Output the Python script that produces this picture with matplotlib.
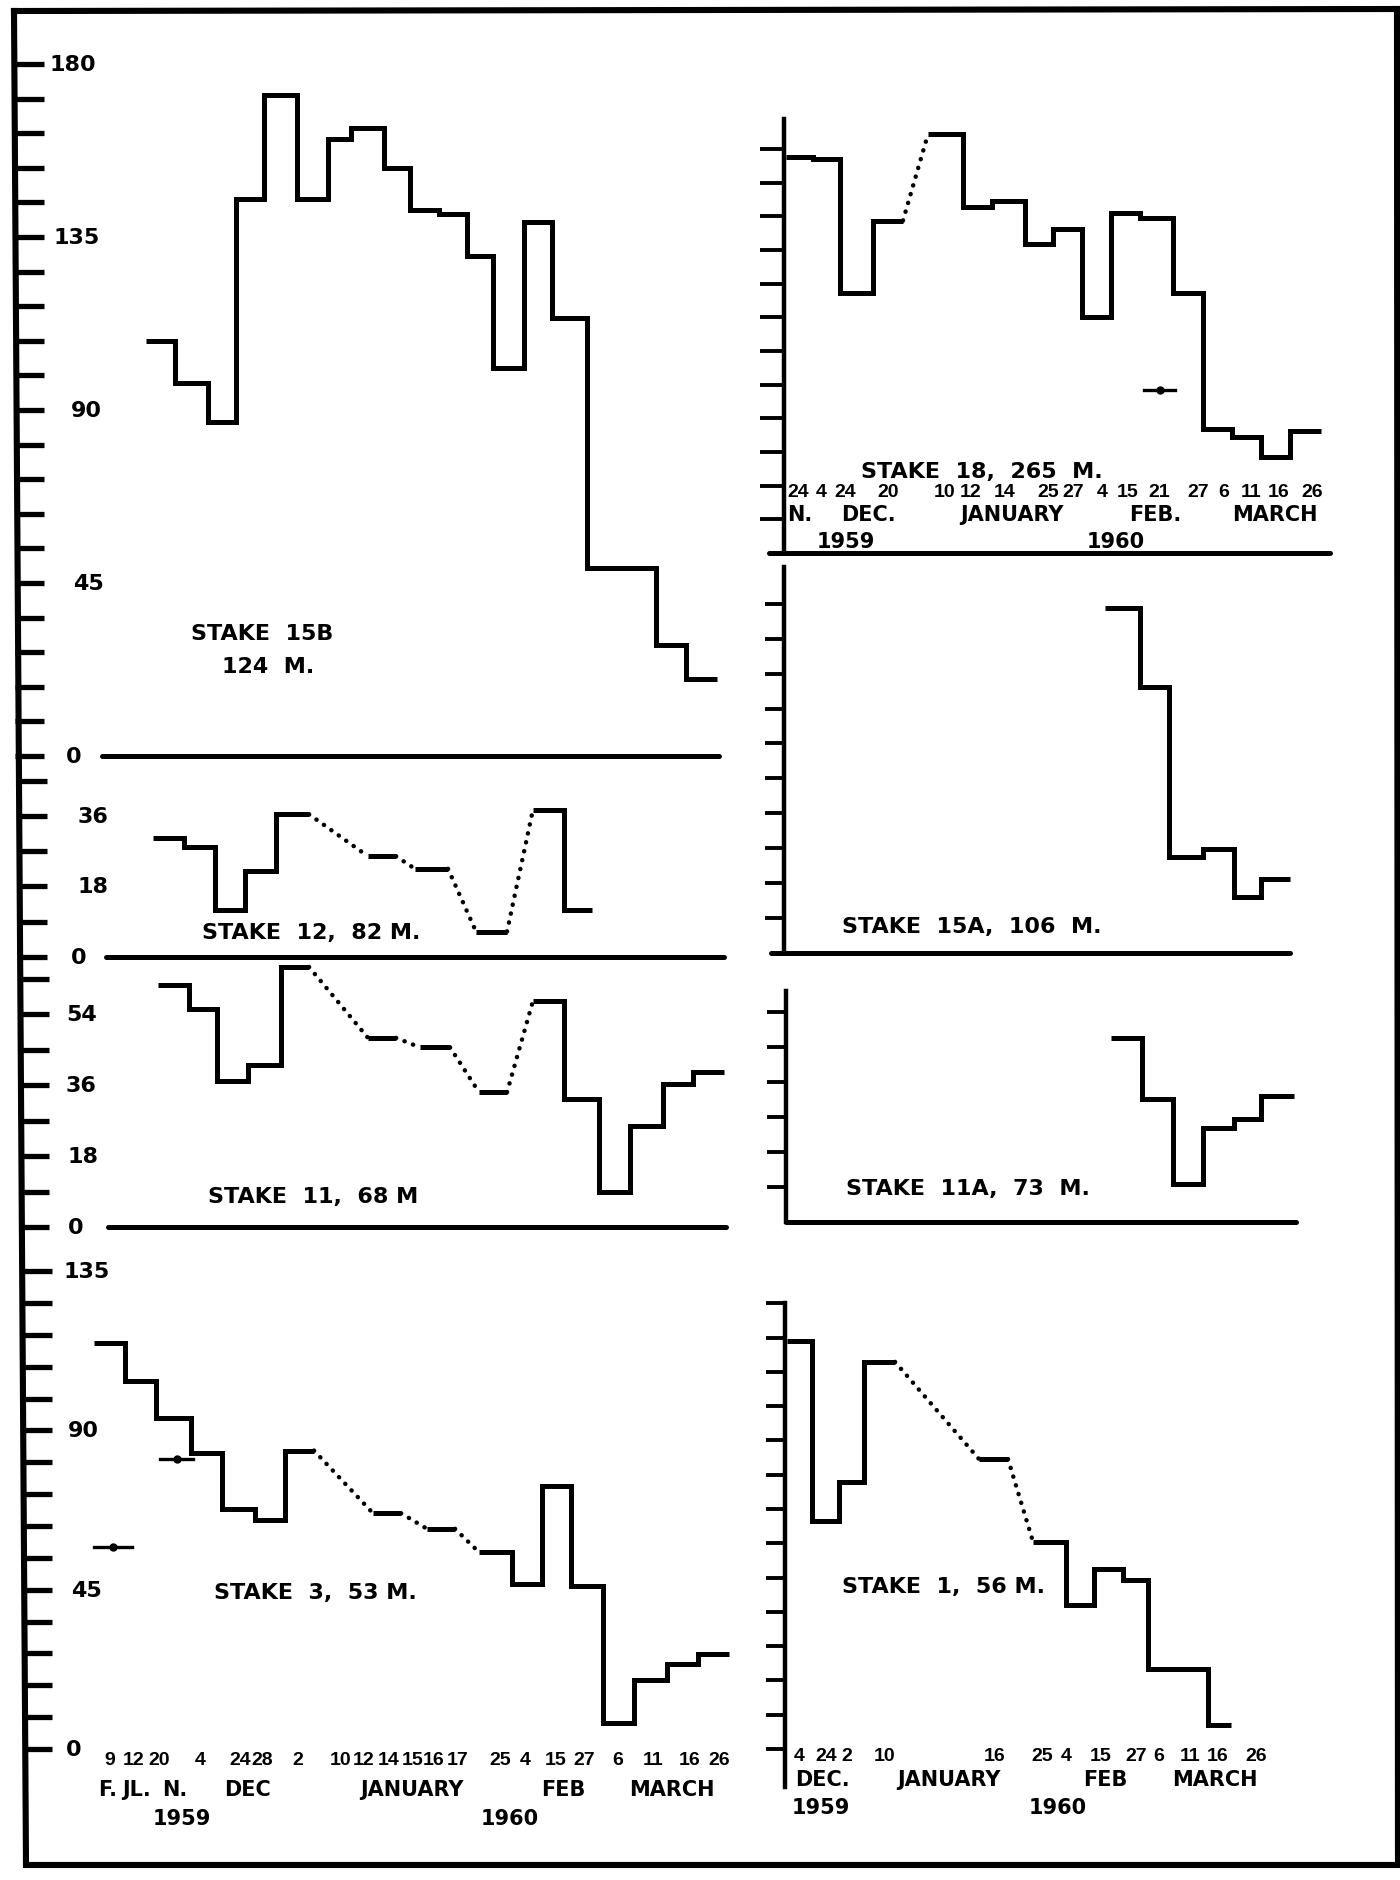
import matplotlib
matplotlib.use('Agg')
import matplotlib.pyplot as plt

W, H = 1400, 1881
LW = 3.6
BOLD = 'DejaVu Sans'
NARROW = 'Liberation Sans'
LABEL_SIZE = 16
TICK_SIZE = 16

# ---------------- data (x = chart position, y = value) ----------------
# Stake 15B, 124 m
s15b_runs = [([146, 175, 208, 236, 264, 297, 328, 351, 384, 410, 439, 467, 493, 524, 552, 587, 656, 686, 717],
              [108, 97, 87, 145, 172, 145, 160.5, 163.5, 153, 142, 141, 130, 101, 139, 114, 49, 29, 20])]
s15b_yticks = [0, 45, 90, 135, 180]

# Stake 12, 82 m
s12_runs = [([153, 184, 215, 245, 276, 309], [30.3, 28, 12, 22, 36.4]),
            ([368, 396], [25.7]),
            ([415, 448], [22.5]),
            ([476, 507], [6.5]),
            ([533, 564, 592], [37.6, 12])]
s12_yticks = [0, 18, 36]

# Stake 11, 68 m
s11_runs = [([158, 189, 217, 248, 281, 309], [61.4, 55.4, 37, 41, 66]),
            ([368, 396], [48]),
            ([420, 450], [45.6]),
            ([479, 507], [34.2]),
            ([533, 564, 599, 630, 663, 693, 724], [57.4, 32.5, 9, 25.7, 36.3, 39.4])]
s11_yticks = [0, 18, 36, 54]

# Stake 3, 53 m
s3_runs = [([94, 125, 156, 191, 222, 255, 285, 314], [114.8, 103.9, 93.4, 83.7, 67.8, 64.7, 84.3]),
           ([373, 401], [66.6]),
           ([427, 455], [62.2]),
           ([479, 512, 542, 571, 603, 634, 667, 698, 729], [55.6, 46.7, 74.3, 46.1, 7.4, 19.6, 23.9, 26.8])]
s3_marks = ([94, 160], [132, 193], [57, 82])
s3_yticks = [0, 45, 90, 135]
s3_dates = ["9", "12", "20", "4", "24", "28", "2", "10", "12", "14", "15", "16", "17",
            "25", "4", "15", "27", "6", "11", "16", "26"]
s3_date_x = [110, 134, 159, 200, 240, 262, 298, 341, 364, 389, 413, 434, 458,
             500, 525, 556, 584, 618, 653, 690, 719]
s3_months = ["F.", "JL.", "N.", "DEC", "JANUARY", "FEB", "MARCH"]
s3_month_x = [108, 137, 175, 247, 412, 563, 672]
s3_years = ["1959", "1960"]
s3_year_x = [182, 510]

# Stake 18, 265 m
s18_runs = [([786, 813, 840, 873, 903], [106, 105.4, 69.4, 88.9]),
            ([928, 963, 992, 1025, 1053, 1082, 1111, 1140, 1173, 1203, 1232, 1261, 1290, 1321],
             [112, 92.4, 94.1, 82.7, 86.7, 63, 90.9, 89.6, 69.4, 33.2, 30.9, 25.6, 32.7])]
s18_marks = ([1144], [1175], [43.5])
s18_dates = ["24", "4", "24", "20", "10", "12", "14", "25", "27", "4", "15", "21", "27", "6", "11", "16", "26"]
s18_date_x = [798, 821, 845, 888, 945, 971, 1005, 1048, 1073, 1102, 1128, 1159, 1198, 1224, 1251, 1279, 1312]
s18_months = ["N.", "DEC.", "JANUARY", "FEB.", "MARCH"]
s18_month_x = [800, 868, 1012, 1155, 1275]
s18_years = ["1959", "1960"]
s18_year_x = [846, 1116]

# Stake 15A, 106 m
s15a_runs = [([1105, 1140, 1169, 1203, 1234, 1261, 1290], [89, 68.6, 24.8, 26.8, 14.4, 19.0])]

# Stake 11A, 73 m
s11a_runs = [([1111, 1142, 1173, 1203, 1234, 1261, 1294], [47.5, 31.7, 9.8, 24.2, 26.5, 32.5])]

# Stake 1, 56 m
s1_runs = [([787, 812, 839, 864, 895], [107, 59.9, 70.1, 101.6]),
           ([979, 1008], [76.1]),
           ([1033, 1066, 1094, 1123, 1148, 1208, 1231], [54.4, 37.7, 47.2, 44.3, 21.0, 6.3])]
s1_dates = ["4", "24", "2", "10", "16", "25", "4", "15", "27", "6", "11", "16", "26"]
s1_date_x = [799, 826, 847, 885, 995, 1042, 1066, 1101, 1136, 1159, 1190, 1218, 1256]
s1_months = ["DEC.", "JANUARY", "FEB", "MARCH"]
s1_month_x = [822, 949, 1105, 1215]
s1_years = ["1959", "1960"]
s1_year_x = [821, 1058]

# ---------------- figure ----------------
fig = plt.figure(figsize=(14, 18.81), dpi=100)
fig.patch.set_facecolor('white')

bg = fig.add_axes([0, 0, 1, 1])
bg.set_xlim(0, W)
bg.set_ylim(H, 0)
bg.axis('off')
frame_x = [14, 1397, 1398, 26, 14]
frame_y = [12, 10, 1866, 1866, 12]
bg.plot(frame_x, frame_y, color='black', lw=4.4, solid_joinstyle='miter')


def panel(x0, x1, ytop, ybot, yzero, ppu):
    ax = fig.add_axes([x0 / W, 1 - ybot / H, (x1 - x0) / W, (ybot - ytop) / H])
    ax.set_xlim(x0, x1)
    ax.set_ylim((yzero - ybot) / ppu, (yzero - ytop) / ppu)
    ax.patch.set_alpha(0)
    for s in ax.spines.values():
        s.set_visible(False)
    ax.set_xticks([])
    return ax


def draw_runs(ax, runs):
    prev = None
    for edges, vals in runs:
        ax.stairs(vals, edges, baseline=None, color='black', lw=LW, clip_on=False)
        if prev is not None:
            ax.plot([prev[0], edges[0]], [prev[1], vals[0]], color='black', lw=3.2,
                    linestyle=(0, (0.05, 2.0)), dash_capstyle='round', clip_on=False)
        prev = (edges[-1], vals[-1])


def draw_marks(ax, marks):
    for a, b, v in zip(*marks):
        ax.plot([a, b], [v, v], color='black', lw=2.4, clip_on=False)
        ax.plot([(a + b) / 2], [v], 'o', color='black', ms=5, clip_on=False)


def left_ticks(ax, top):
    ax.set_yticks(list(range(0, top + 1, 9)))
    ax.tick_params(axis='y', direction='in', length=21, width=3.8, labelleft=False)


def right_axis(ax, ticks, length=12):
    ax.spines['left'].set_visible(True)
    ax.spines['left'].set_linewidth(3.2)
    ax.set_yticks(ticks)
    ax.tick_params(axis='y', direction='out', length=length, width=2.8, labelleft=False)


def label(ax, x, v, s):
    ax.text(x, v, s, fontsize=TICK_SIZE, fontweight='bold', family=BOLD, ha='left', va='center', clip_on=False)


def title(ax, x, v, s):
    ax.text(x, v, s, fontsize=LABEL_SIZE, fontweight='bold', family=BOLD, ha='center', va='center', clip_on=False)


def date_rows(ax, rows_y, dates, dx, months, mx, years, yx, size=14, wsize=15):
    for s, x in zip(dates, dx):
        ax.text(x, rows_y[0], s, fontsize=size, fontweight='bold', family=NARROW,
                ha='center', va='center', clip_on=False)
    for s, x in zip(months, mx):
        ax.text(x, rows_y[1], s, fontsize=wsize, fontweight='bold', family=BOLD,
                ha='center', va='center', clip_on=False)
    for s, x in zip(years, yx):
        ax.text(x, rows_y[2], s, fontsize=wsize, fontweight='bold', family=BOLD,
                ha='center', va='center', clip_on=False)


def vpx(yzero, ppu, ypx):
    return (yzero - ypx) / ppu


# ---- Stake 15B ----
z, p = 757, 3.844
ax = panel(15, 740, 40, 770, z, p)
left_ticks(ax, 180)
draw_runs(ax, s15b_runs)
ax.plot([102, 719], [0, 0], color='black', lw=3.6, solid_capstyle='round')
for t, x in zip(s15b_yticks, [66, 73, 71, 54, 50]):
    label(ax, x, t, str(t))
title(ax, 262, vpx(z, p, 634), "STAKE  15B")
title(ax, 268, vpx(z, p, 667), "124  M.")

# ---- Stake 12 ----
z, p = 958, 3.92
ax = panel(18, 740, 775, 962, z, p)
left_ticks(ax, 45)
draw_runs(ax, s12_runs)
ax.plot([106, 724], [0, 0], color='black', lw=3.6, solid_capstyle='round')
for t, x in zip(s12_yticks, [71, 78, 78]):
    label(ax, x, t, str(t))
title(ax, 311, vpx(z, p, 933), "STAKE  12,  82 M.")

# ---- Stake 11 ----
z, p = 1228, 3.94
ax = panel(20, 740, 970, 1235, z, p)
left_ticks(ax, 63)
draw_runs(ax, s11_runs)
ax.plot([108, 726], [0, 0], color='black', lw=3.6, solid_capstyle='round')
for t, x in zip(s11_yticks, [68, 68, 66, 66]):
    label(ax, x, t, str(t))
title(ax, 313, vpx(z, p, 1197), "STAKE  11,  68 M")

# ---- Stake 3 ----
z, p = 1750, 3.54
ax = panel(23, 740, 1255, 1760, z, p)
left_ticks(ax, 135)
draw_runs(ax, s3_runs)
draw_marks(ax, s3_marks)
for t, x in zip(s3_yticks, [66, 71, 68, 64]):
    label(ax, x, t, str(t))
title(ax, 315, vpx(z, p, 1593), "STAKE  3,  53 M.")
date_rows(ax, [vpx(z, p, 1761), vpx(z, p, 1790), vpx(z, p, 1819)],
          s3_dates, s3_date_x, s3_months, s3_month_x, s3_years, s3_year_x)

# ---- Stake 18 ----
z, p = 554, 3.74
ax = panel(784, 1340, 120, 554, z, p)
right_axis(ax, list(range(9, 109, 9)), 17)
draw_runs(ax, s18_runs)
draw_marks(ax, s18_marks)
ax.plot([769, 1330], [0, 0], color='black', lw=3.6, clip_on=False, solid_capstyle='round')
title(ax, 982, vpx(z, p, 472), "STAKE  18,  265  M.")
date_rows(ax, [vpx(z, p, 493), vpx(z, p, 515), vpx(z, p, 542)],
          s18_dates, s18_date_x, s18_months, s18_month_x, s18_years, s18_year_x)

# ---- Stake 15A ----
z, p = 954, 3.88
ax = panel(784, 1340, 568, 954, z, p)
right_axis(ax, list(range(9, 91, 9)), 14)
draw_runs(ax, s15a_runs)
ax.plot([771, 1290], [0, 0], color='black', lw=3.6, clip_on=False, solid_capstyle='round')
title(ax, 972, vpx(z, p, 927), "STAKE  15A,  106  M.")

# ---- Stake 11A ----
z, p = 1223, 3.88
ax = panel(786, 1340, 992, 1223, z, p)
right_axis(ax, list(range(9, 55, 9)), 14)
draw_runs(ax, s11a_runs)
ax.plot([786, 1296], [0, 0], color='black', lw=3.6, clip_on=False, solid_capstyle='round')
title(ax, 968, vpx(z, p, 1189), "STAKE  11A,  73  M.")

# ---- Stake 1 ----
z, p = 1750, 3.81
ax = panel(785, 1340, 1304, 1788, z, p)
right_axis(ax, list(range(0, 118, 9)), 14)
draw_runs(ax, s1_runs)
title(ax, 944, vpx(z, p, 1587), "STAKE  1,  56 M.")
date_rows(ax, [vpx(z, p, 1757), vpx(z, p, 1780), vpx(z, p, 1808)],
          s1_dates, s1_date_x, s1_months, s1_month_x, s1_years, s1_year_x)

fig.savefig('out.png', dpi=100, facecolor='white')
